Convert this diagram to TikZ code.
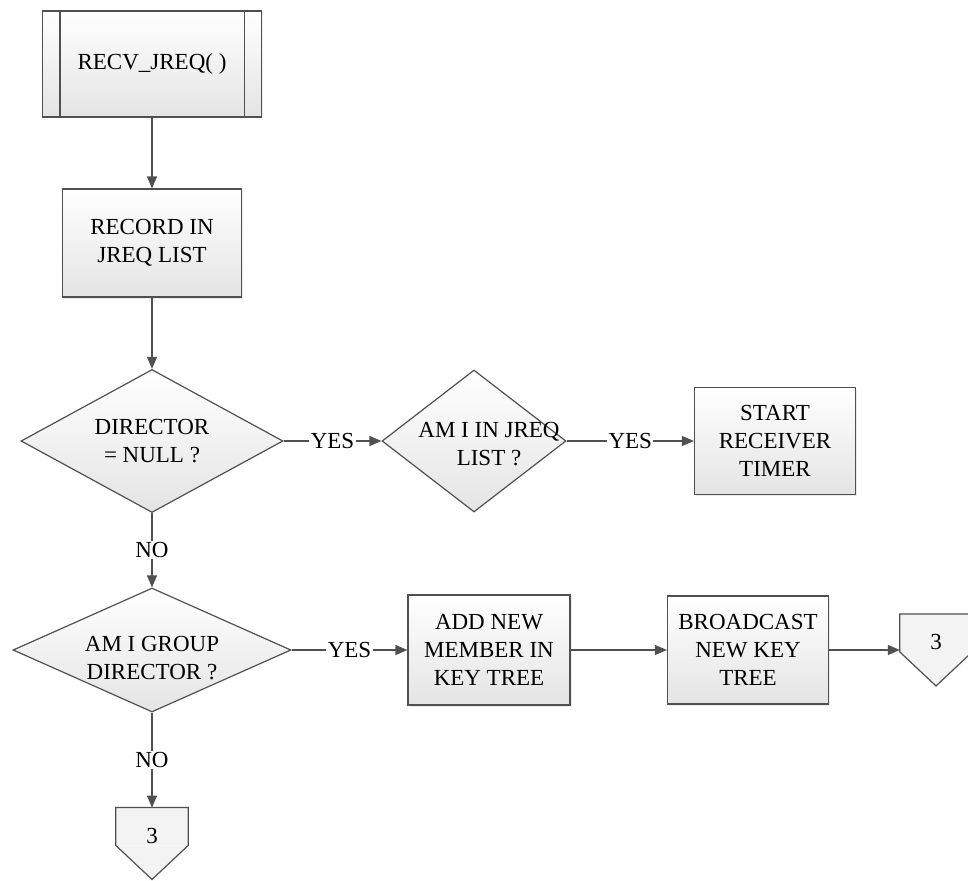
\documentclass[tikz,border=0pt]{standalone}
\usepackage{fontspec}
\setmainfont{Liberation Serif}
\usetikzlibrary{shapes.geometric,arrows.meta,shadows}

\definecolor{flowgray}{HTML}{505050}
\definecolor{flowshade}{HTML}{E4E4E4}
\definecolor{pagefill}{HTML}{F3F3F3}

\tikzset{
    flowbox/.style={draw=flowgray, line width=1.2pt, top color=white, bottom color=flowshade,
        drop shadow={opacity=.15, shadow xshift=1.5pt, shadow yshift=-1.5pt}, align=center, inner sep=0pt},
    decision/.style={diamond, draw=flowgray, line width=1.2pt, top color=white, bottom color=flowshade, inner sep=0pt},
    decisiontext/.style={align=center, inner sep=0pt},
    offpage/.style={fill=pagefill, minimum width=72pt, minimum height=37.5pt, inner sep=0pt,
        text height=33pt, text depth=0pt},
    flowarrow/.style={draw=flowgray, line width=1.2pt, -{Triangle[length=12pt,width=10pt]}},
    flowline/.style={draw=flowgray, line width=1.2pt},
    answer/.style={fill=white, inner sep=1.5pt},
}

\begin{document}
\begin{tikzpicture}[x=1pt, y=-1pt, font=\fontsize{23}{28}\selectfont]
        \path[use as bounding box, fill=white] (0,0) rectangle (968,880);

        % process boxes
        \node[flowbox, minimum width=219pt, minimum height=106pt] (recv) at (152,64) {RECV\_JREQ( )};
        \draw[flowline] ([xshift=18pt]recv.north west) -- ([xshift=18pt]recv.south west);
        \draw[flowline] ([xshift=-18pt]recv.north east) -- ([xshift=-18pt]recv.south east);
        \node[flowbox, minimum width=179pt, minimum height=108pt] (record) at (152,243) {RECORD IN\\JREQ LIST};
        \node[flowbox, minimum width=161pt, minimum height=107pt] (timer) at (775,441) {START\\RECEIVER\\TIMER};
        \node[flowbox, minimum width=162pt, minimum height=110pt] (addmember) at (489,650) {ADD NEW\\MEMBER IN\\KEY TREE};
        \node[flowbox, minimum width=161pt, minimum height=108pt] (broadcast) at (748,650) {BROADCAST\\NEW KEY\\TREE};

        % decisions
        \node[decision, minimum width=262pt, minimum height=143pt,
            label={[decisiontext]center:{DIRECTOR\\= NULL ?}}] (isnull) at (152,441) {};
        \node[decision, minimum width=184pt, minimum height=142pt,
            label={[decisiontext, xshift=15pt, yshift=-3pt]center:{AM I IN JREQ\\LIST ?}}] (inlist) at (474,441) {};
        \node[decision, minimum width=278pt, minimum height=124pt,
            label={[decisiontext, yshift=-8pt]center:{AM I GROUP\\DIRECTOR ?}}] (isdirector) at (152,650) {};

        % off page connectors
        \node[offpage] (offright) at (936,633) {3};
        \node[offpage] (offbottom) at (152,826.5) {3};
        \foreach \p in {offright,offbottom} {
            \fill[pagefill] (\p.south west) -- ([yshift=-34pt]\p.south) -- (\p.south east) -- cycle;
            \draw[flowline] (\p.north west) -- (\p.north east) -- (\p.south east) -- ([yshift=-34pt]\p.south) -- (\p.south west) -- cycle;
        }

        % vertical
        \draw[flowarrow] (recv) -- (record);
        \draw[flowarrow] (record) -- (isnull);
        \draw[flowarrow] (isnull) -- node[answer] {NO} (isdirector);
        \draw[flowarrow] (isdirector) -- node[answer] {NO} (offbottom);

        % horizontal
        \draw[flowarrow] (isnull) -- node[answer] {YES} (inlist);
        \draw[flowarrow] (inlist) -- node[answer] {YES} (timer);
        \draw[flowarrow] (isdirector) -- node[answer] {YES} (addmember);
        \draw[flowarrow] (addmember) -- (broadcast);
        \draw[flowarrow] (broadcast.east) -- (broadcast.east -| offright.west);
\end{tikzpicture}
\end{document}
